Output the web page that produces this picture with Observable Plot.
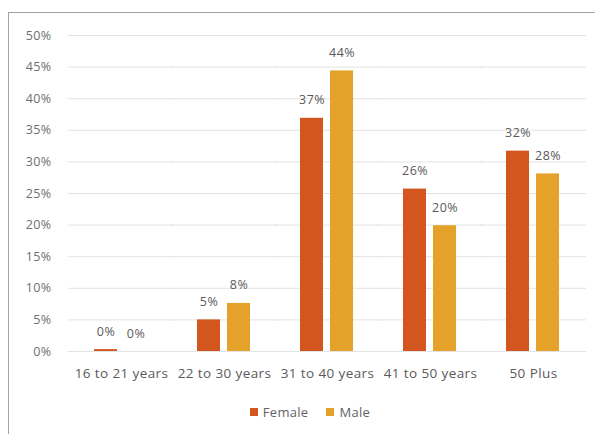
<!DOCTYPE html>
<html>
<head>
<meta charset="utf-8">
<script src="https://cdn.jsdelivr.net/npm/d3@7"></script>
<script src="https://cdn.jsdelivr.net/npm/@observablehq/plot@0.6"></script>
<style>
  html, body { margin: 0; padding: 0; background: #fff; overflow: hidden; }
  body { width: 595px; height: 434px; position: relative; font-family: "Open Sans", sans-serif; }
  #frame { position: absolute; left: 8px; top: 12px; width: 640px; height: 480px;
           border: 1px solid #a3a3a3; box-sizing: border-box; }
  #chart { position: absolute; left: 0; top: 0; }
  #chart svg text { letter-spacing: 0.4px; }
  #legend { position: absolute; left: 0; top: 403px; width: 620px; display: flex;
            justify-content: center; gap: 18px; font-size: 13px; color: #636363; letter-spacing: 0.3px; }
  #legend span.item { display: inline-flex; align-items: center; gap: 5px; }
  #legend i { display: inline-block; width: 8px; height: 8px; }
</style>
</head>
<body>
<div id="frame"></div>
<div id="chart"></div>
<div id="legend"></div>
<script>
// Age groups and the share of each gender in them
const ageGroups = ["16 to 21 years", "22 to 30 years", "31 to 40 years", "41 to 50 years", "50 Plus"];
const genders = ["Female", "Male"];
const femaleShare = [0.003, 0.05, 0.369, 0.257, 0.317];
const maleShare = [0.0, 0.076, 0.444, 0.199, 0.281];
const yTicks = [0, 0.05, 0.10, 0.15, 0.20, 0.25, 0.30, 0.35, 0.40, 0.45, 0.50];
const genderColors = ["#D4561F", "#E4A22A"];

const rows = [];
ageGroups.forEach((g, i) => {
  rows.push({age: g, gender: "Female", share: femaleShare[i]});
  rows.push({age: g, gender: "Male", share: maleShare[i]});
});

const pct = d3.format(".0%");

// layout of the age-group bands
const W = 595, mL = 67, mR = 9;
const fxPadInner = 0.48, fxPadOuter = 0.24;
const step = (W - mL - mR) / (ageGroups.length - fxPadInner + 2 * fxPadOuter);
const halfGap = Math.ceil(step * fxPadOuter) + 1; // gridlines run across the gaps between groups

const chart = Plot.plot({
  width: W,
  height: 390,
  marginLeft: mL,
  marginRight: mR,
  marginTop: 35,
  marginBottom: 39,
  style: {fontFamily: "Open Sans, sans-serif", background: "transparent"},
  fx: {domain: ageGroups, paddingInner: fxPadInner, paddingOuter: fxPadOuter, label: null},
  x: {domain: genders, paddingInner: 0.23, paddingOuter: 0, axis: null},
  y: {domain: [0, 0.5], label: null, axis: null},
  color: {domain: genders, range: genderColors},
  marks: [
    Plot.ruleY(yTicks, {y: d => d, stroke: "#e3e3e3", strokeWidth: 1, insetLeft: -halfGap, insetRight: -halfGap}),
    Plot.axisY(yTicks, {tickFormat: pct, tickSize: 0, tickPadding: 18 + step * fxPadOuter, fontSize: 12.5, fill: "#6e6e6e", label: null}),
    Plot.axisFx({anchor: "bottom", tickSize: 0, tickPadding: 17, fontSize: 13.5, fill: "#5a5a5a", label: null}),
    Plot.barY(rows, {fx: "age", x: "gender", y: "share", fill: "gender"}),
    Plot.text(rows, {fx: "age", x: "gender", y: "share", text: d => pct(d.share), dy: -18, fontSize: 12.5, fill: "#5a5a5a"})
  ]
});
document.getElementById("chart").appendChild(chart);

// Legend under the chart
const legend = d3.select("#legend");
genders.forEach((g, i) => {
  const item = legend.append("span").attr("class", "item");
  item.append("i").style("background", genderColors[i]);
  item.append("span").text(g);
});
</script>
</body>
</html>
